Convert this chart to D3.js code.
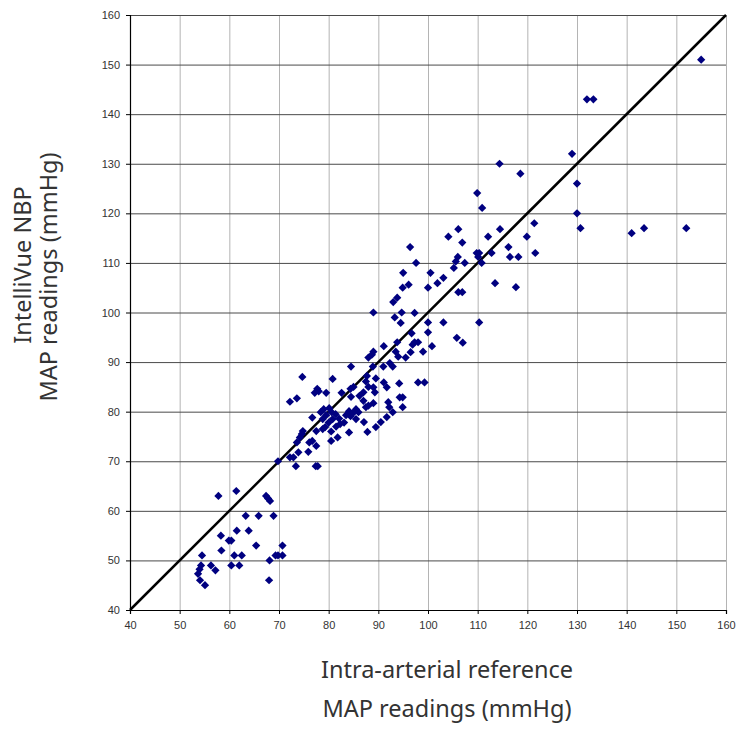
<!DOCTYPE html>
<html>
<head>
<meta charset="utf-8">
<script src="https://cdn.jsdelivr.net/npm/d3@7"></script>
<style>
  html, body { margin: 0; padding: 0; background: #fff; }
  .chart { width: 736px; height: 729px; }
</style>
</head>
<body>
<div class="chart"></div>
<script>
// 有创动脉参考值 (x) 与 IntelliVue NBP 读数 (y)
var arterialMap = [
  57.8, 61.4, 67.4, 67.8, 68.2, 63.3, 65.9, 68.9, 61.5, 63.9, 58.3, 59.9, 60.4, 65.4, 70.7, 58.4,
  54.5, 61, 62.5, 69.3, 69.8, 70.7, 68.1, 54.3, 56.3, 60.4, 62, 54, 57.2, 53.7, 54.1, 55.1, 68,
  69.8, 72.2, 72.9, 73.4, 77.4, 77.8, 73.9, 75.9, 73.6, 76.1, 77.5, 76.7, 74.2, 74.6, 74.8, 77.5,
  78.8, 80.5, 81.8, 84.1, 76.7, 78.4, 79, 80.1, 80.6, 81.4, 79.5, 78.8, 80, 80.8, 82.1, 82.3,
  83.1, 84.1, 84.4, 85, 85.5, 85.5, 79.3, 80.5, 81.5, 83.5, 72.2, 73.6, 77.7, 78, 77.2, 79.5,
  82.6, 84.4, 85, 84.5, 74.7, 80.8,
  86, 86.2, 87, 88, 89, 87.5, 87.5, 88, 87, 89.5, 89, 89.3, 91.1, 91.7, 94.2, 98, 99.3, 92, 92.2,
  94.3, 94.9, 94.9, 92.9, 91.7, 90.5, 89.5, 87.8, 87.1, 87.7,
  94.9, 96.1, 100, 93.8, 93, 89, 94.7, 97.3, 93.3, 94.5, 100, 100, 96.7, 100.8, 93.8, 91.1, 97.3,
  98, 96.9, 99, 96.5, 93.5, 94, 95.5, 89, 88.7, 88, 84.5, 88.9, 91, 92.3, 92.9,
  96.4, 97.6, 95, 100.5, 101.9, 103.1, 106.1, 106.9, 113.5, 117.7, 103.1, 110.3, 105.8, 107,
  105.2, 105.6, 107.4, 106, 110.8, 104.1, 106.1, 106.9, 112.1, 114.5, 116.2, 119.9, 109.8, 110.3,
  110.1, 112.8, 116.5, 118.2,
  114.4, 118.6, 109.9, 110.9, 121.4, 121.6,
  129, 132, 133.3, 130, 130, 130.7, 141, 143.5, 152, 155
]
var nbpMap = [
  63, 64, 63, 62.5, 62, 59, 59, 59, 56, 56, 55, 54, 54, 53, 53, 52,
  51, 51, 51, 51, 51, 51, 50, 49, 49, 49, 49, 48.2, 48, 47.3, 46, 45, 46,
  70, 70.8, 70.8, 69, 69, 69, 71.8, 71.9, 73.8, 73.8, 73.1, 74.1, 74.8, 75.5, 76.1, 76.1,
  76.5, 74.1, 74.8, 75.8, 78.8, 79.9, 80.5, 80.7, 79.9, 79.5, 79.3, 78.5, 77.8, 78.5, 78.6, 77.5,
  77.8, 80.1, 79.1, 79.8, 80.5, 78.5, 76.9, 76, 77, 79.3, 82, 82.7, 84.6, 84.1, 83.8, 83.8,
  83.8, 84.6, 85, 83, 87, 86.6,
  79.9, 83.2, 82.2, 81.2, 81.7, 80.9, 86.1, 85, 83.9, 86.7, 84.9, 83.9, 85.9, 84.9, 85.7, 85.9, 85.9, 81.9, 80.9,
  82.9, 82.9, 80.9, 79.9, 78.9, 77.9, 76.9, 75.9, 77.9, 87.2,
  105, 105.6, 105, 103, 102.1, 100, 100, 99.9, 99, 97.9, 98, 96, 95.8, 93.2, 94, 93.2, 94,
  94, 93.5, 92.1, 92, 92.1, 91.1, 90.9, 92.1, 91.5, 90.9, 89.1, 89.1, 89.1, 89.8, 89.1,
  113.2, 110, 108, 108, 105.9, 107, 104.1, 104.1, 105.9, 105.1, 98, 98, 94.9, 93.9,
  109, 110.3, 110, 111.2, 110, 115.3, 116.8, 114.1, 115.3, 116.8, 113.2, 115.3, 112, 112,
  111.2, 112, 111.2, 111.2,
  130, 128, 124.1, 121.1, 118, 112,
  132, 143, 143, 126, 120, 117, 116, 117, 117, 151
]
var ticks = [40, 50, 60, 70, 80, 90, 100, 110, 120, 130, 140, 150, 160]
var yTitle = ['IntelliVue NBP', 'MAP readings (mmHg)']
var xTitle = ['Intra-arterial reference', 'MAP readings (mmHg)']

function drawScatter() {
  var width = 736
  var height = 729
  var left = 130
  var right = 726
  var top = 15
  var bottom = 610

  var svg = d3.select('.chart').append('svg').attr('width', width).attr('height', height)

  var x = d3.scaleLinear().domain([40, 160]).range([left, right])
  var y = d3.scaleLinear().domain([40, 160]).range([bottom, top])

  // 网格线
  var gx = svg.append('g').attr('transform', `translate(0, ${bottom})`)
    .call(d3.axisBottom(x).tickValues(ticks).tickSize(-(bottom - top)).tickFormat(''))
  gx.select('.domain').remove()
  gx.selectAll('line').attr('stroke', '#b4b4b4').attr('stroke-width', 1)

  var gy = svg.append('g').attr('transform', `translate(${left}, 0)`)
    .call(d3.axisLeft(y).tickValues(ticks).tickSize(-(right - left)).tickFormat(''))
  gy.select('.domain').remove()
  gy.selectAll('line').attr('stroke', '#4a4a4a').attr('stroke-width', 1)

  // 参考线 y = x
  var line = d3.line().x(function(d) { return x(d) }).y(function(d) { return y(d) })
  svg.append('path').datum([40, 160])
    .attr('d', line)
    .attr('fill', 'none')
    .attr('stroke', '#000')
    .attr('stroke-width', 2.5)

  // 散点（菱形）
  var symbol = d3.symbol().type(d3.symbolSquare).size(34)
  svg.append('g').selectAll('path')
    .data(arterialMap)
    .enter()
    .append('path')
    .attr('d', symbol)
    .attr('transform', function(d, i) {
      return `translate(${x(d)}, ${y(nbpMap[i])}) rotate(45)`
    })
    .attr('fill', '#000080')

  // 坐标轴
  var axisX = svg.append('g').attr('transform', `translate(0, ${bottom})`)
    .call(d3.axisBottom(x).tickValues(ticks).tickSize(4).tickPadding(7))
  var axisY = svg.append('g').attr('transform', `translate(${left}, 0)`)
    .call(d3.axisLeft(y).tickValues(ticks).tickSize(4).tickPadding(6))

  ;[axisX, axisY].forEach(function(g) {
    g.select('.domain').attr('stroke', '#000').attr('stroke-width', 1.2)
    g.selectAll('.tick line').attr('stroke', '#000')
    g.selectAll('text')
      .attr('fill', '#333')
      .style('font-family', '"Liberation Sans", Arial, sans-serif')
      .style('font-size', '11px')
  })

  // 轴标题
  var titleFont = '"Noto Sans", sans-serif'
  svg.selectAll('.x-title').data(xTitle).enter().append('text')
    .attr('class', 'x-title')
    .attr('x', 447)
    .attr('y', function(d, i) { return 678 + i * 39 })
    .attr('text-anchor', 'middle')
    .attr('fill', '#333')
    .style('font-family', titleFont)
    .style('font-size', '23.5px')
    .text(function(d) { return d })

  var yPos = [[31, 265], [57, 277]]
  svg.selectAll('.y-title').data(yTitle).enter().append('text')
    .attr('class', 'y-title')
    .attr('transform', function(d, i) { return `translate(${yPos[i][0]}, ${yPos[i][1]}) rotate(-90)` })
    .attr('text-anchor', 'middle')
    .attr('fill', '#333')
    .style('font-family', titleFont)
    .style('font-size', '23.5px')
    .text(function(d) { return d })
}

drawScatter()
</script>
</body>
</html>
